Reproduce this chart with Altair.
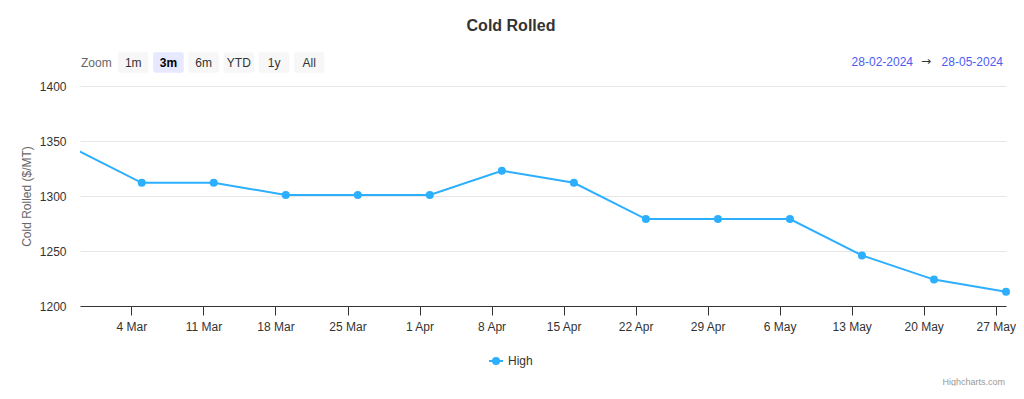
import altair as alt
import pandas as pd

# ---- data ----
dates = ["2024-02-27", "2024-03-05", "2024-03-12", "2024-03-19", "2024-03-26",
         "2024-04-02", "2024-04-09", "2024-04-16", "2024-04-23", "2024-04-30",
         "2024-05-07", "2024-05-14", "2024-05-21", "2024-05-28"]
high = [1345, 1312, 1312, 1301, 1301, 1301, 1323, 1312, 1279, 1279, 1279, 1246, 1224, 1213]
x_ticks = ["2024-03-04", "2024-03-11", "2024-03-18", "2024-03-25", "2024-04-01",
           "2024-04-08", "2024-04-15", "2024-04-22", "2024-04-29", "2024-05-06",
           "2024-05-13", "2024-05-20", "2024-05-27"]
y_ticks = [1200, 1250, 1300, 1350, 1400]
buttons = ["1m", "3m", "6m", "YTD", "1y", "All"]
selected = "3m"
range_from = "28-02-2024"
range_to = "28-05-2024"
x_start = "2024-02-28"
x_end = "2024-05-28"

FONT = "Liberation Sans"
LINE = "#2caffe"
W, H = 926, 220


def dt(s):
    t = pd.Timestamp(s)
    return alt.DateTime(year=t.year, month=t.month, date=t.day)


df = pd.DataFrame({"date": [d + "T00:00:00" for d in dates], "High": high})
one = pd.DataFrame({"a": [0]})

x_enc = alt.X("date:T",
              scale=alt.Scale(domain=[dt(x_start), dt(x_end)], nice=False),
              axis=alt.Axis(values=[dt(v) for v in x_ticks], format="%-d %b",
                            title=None, grid=False, tickSize=9, labelPadding=6,
                            domainColor="#333333", tickColor="#333333",
                            labelColor="#333333", labelFontSize=12, labelFont=FONT))
y_enc = alt.Y("High:Q",
              scale=alt.Scale(domain=[1200, 1400], nice=False, zero=False),
              axis=alt.Axis(values=y_ticks, format="d", title="Cold Rolled ($/MT)",
                            gridColor="#e6e6e6", domain=False, ticks=False,
                            labelPadding=14, titlePadding=6, labelFont=FONT,
                            labelFontSize=12, labelColor="#333333",
                            titleFont=FONT, titleFontSize=12, titleColor="#666666",
                            titleFontWeight="normal"))

line = alt.Chart(df).mark_line(color=LINE, strokeWidth=2, clip=True).encode(x=x_enc, y=y_enc)
pts = alt.Chart(df).transform_filter(
    alt.FieldGTEPredicate(field="date", gte=dt(x_start))
).mark_point(filled=True, color=LINE, size=64, opacity=1).encode(x="date:T", y="High:Q")

layers = [line, pts]


def txt(text, x, y, **kw):
    props = dict(font=FONT, fontSize=12, color="#333333", baseline="middle")
    props.update(kw)
    return alt.Chart(one).mark_text(text=text, **props).encode(x=alt.value(x), y=alt.value(y))


# title
layers.append(txt("Cold Rolled", 431, -60, fontSize=16, fontWeight="bold", align="center"))

# range selector
layers.append(txt("Zoom", 1, -23.5, color="#666666", align="left"))
b0, step, bw = 38, 35.2, 30.5
for i, b in enumerate(buttons):
    x0 = b0 + i * step
    sel = b == selected
    layers.append(alt.Chart(one).mark_rect(
        color="#e6e9ff" if sel else "#f7f7f7", cornerRadius=2
    ).encode(x=alt.value(x0), x2=alt.value(x0 + bw), y=alt.value(-33.7), y2=alt.value(-13.3)))
    layers.append(txt(b, x0 + bw / 2, -23.5, align="center",
                      fontWeight="bold" if sel else "normal",
                      color="#000000" if sel else "#333333"))

# date range inputs
layers.append(txt(range_from, 833, -24, color="#4b5bf5", align="right"))
layers.append(txt("\u2192", 846, -25, color="#333333", align="center",
                  font="DejaVu Sans", fontSize=12))
layers.append(txt(range_to, 923, -24, color="#4b5bf5", align="right"))

# legend
layers.append(alt.Chart(one).mark_rule(color=LINE, strokeWidth=2).encode(
    x=alt.value(409), x2=alt.value(423), y=alt.value(275)))
layers.append(alt.Chart(one).mark_point(filled=True, color=LINE, size=64, opacity=1).encode(
    x=alt.value(416), y=alt.value(275)))
layers.append(txt("High", 428, 275, align="left"))

# credits
layers.append(txt("Highcharts.com", 925, 296, fontSize=9, color="#999999", align="right"))

chart = alt.layer(*layers).properties(
    width=W, height=H,
    autosize=alt.AutoSizeParams(type="none"),
    padding={"left": 72, "top": 78, "right": 10, "bottom": 80},
    background="white",
).configure_view(stroke=None)

chart.save("out.html", embed_options={"renderer": "svg", "actions": False})
